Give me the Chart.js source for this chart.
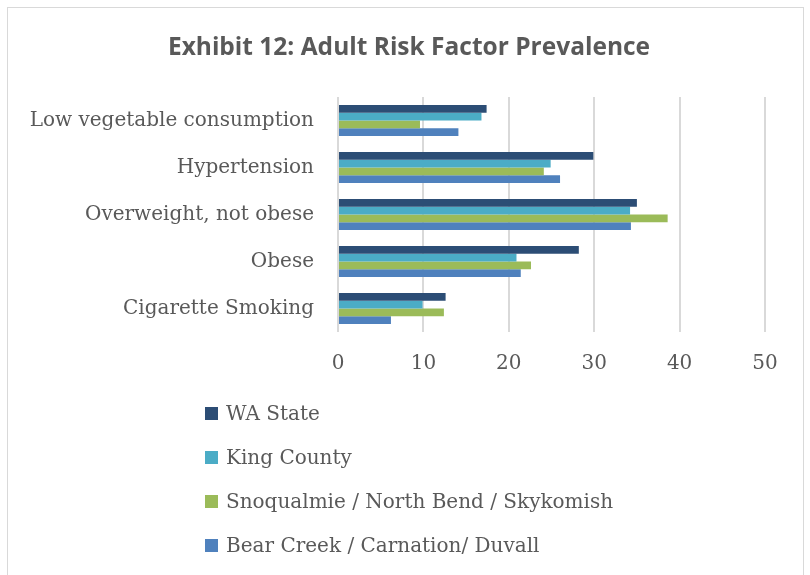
<!DOCTYPE html>
<html><head><meta charset="utf-8">
<script src="https://cdn.jsdelivr.net/npm/chart.js@4"></script>
<style>
html,body{margin:0;padding:0;background:#fff;}
#wrap{position:absolute;left:0;top:0;width:810px;height:575px;overflow:hidden;}
#frame{position:absolute;left:7px;top:7px;width:797px;height:600px;border:1px solid #d9d9d9;box-sizing:border-box;}
canvas{position:absolute;left:0;top:0;}
#title{position:absolute;left:9px;width:800px;top:30px;height:32px;line-height:32px;text-align:center;font-family:"Open Sans",sans-serif;font-weight:700;font-size:24.5px;color:#595959;}
#legend{position:absolute;left:205px;top:391px;font-family:"DejaVu Serif",serif;font-size:20px;color:#595959;}
.item{height:44px;display:flex;align-items:center;}
.box{width:13px;height:13px;margin-right:8px;}
</style></head>
<body><div id="wrap"><div id="frame"></div><canvas id="c" width="810" height="575"></canvas><div id="title"></div><div id="legend"></div></div>
<script>
const chartTitle = "Exhibit 12: Adult Risk Factor Prevalence";
const categories = ["Low vegetable consumption","Hypertension","Overweight, not obese","Obese","Cigarette Smoking"];
const seriesNames = ["WA State","King County","Snoqualmie / North Bend / Skykomish","Bear Creek / Carnation/ Duvall"];
const waState = [17.4, 29.9, 35.0, 28.2, 12.6];
const kingCounty = [16.8, 24.9, 34.2, 20.9, 9.9];
const snoqualmie = [9.6, 24.1, 38.6, 22.6, 12.4];
const bearCreek = [14.1, 26.0, 34.3, 21.4, 6.2];
const xTicks = [0, 10, 20, 30, 40, 50];
const colors = ["#2C4D75","#4BACC6","#9BBB59","#4F81BD"];
const values = [waState, kingCounty, snoqualmie, bearCreek];

document.getElementById('title').textContent = chartTitle;

const datasets = seriesNames.map((n,i)=>({label:n,data:values[i],backgroundColor:colors[i],borderWidth:0,categoryPercentage:0.66,barPercentage:1.0}));

new Chart(document.getElementById('c'),{
  type:'bar',
  data:{labels:categories,datasets:datasets},
  options:{
    indexAxis:'y',
    responsive:false,
    animation:false,
    layout:{padding:{left:0,right:45,top:97,bottom:183}},
    plugins:{
      legend:{display:false},
      tooltip:{enabled:false},
      title:{display:false}
    },
    scales:{
      x:{min:xTicks[0],max:xTicks[xTicks.length-1],
        afterBuildTicks:(s)=>{s.ticks=xTicks.map(v=>({value:v}));},
        afterFit:(s)=>{s.height=60;},
        grid:{color:"#d9d9d9",lineWidth:2,drawTicks:false},
        border:{display:false},
        ticks:{color:"#595959",padding:20,font:{family:"'DejaVu Serif'",size:20}}
      },
      y:{
        afterFit:(s)=>{s.width=338;},
        grid:{display:false},
        border:{display:false},
        ticks:{color:"#595959",padding:16,font:{family:"'DejaVu Serif'",size:20}}
      }
    }
  }
});

const lg=document.getElementById('legend');
seriesNames.forEach((n,i)=>{
  const d=document.createElement('div');d.className='item';
  const b=document.createElement('span');b.className='box';b.style.background=colors[i];
  const t=document.createElement('span');t.textContent=n;
  d.appendChild(b);d.appendChild(t);lg.appendChild(d);
});
</script></body></html>
